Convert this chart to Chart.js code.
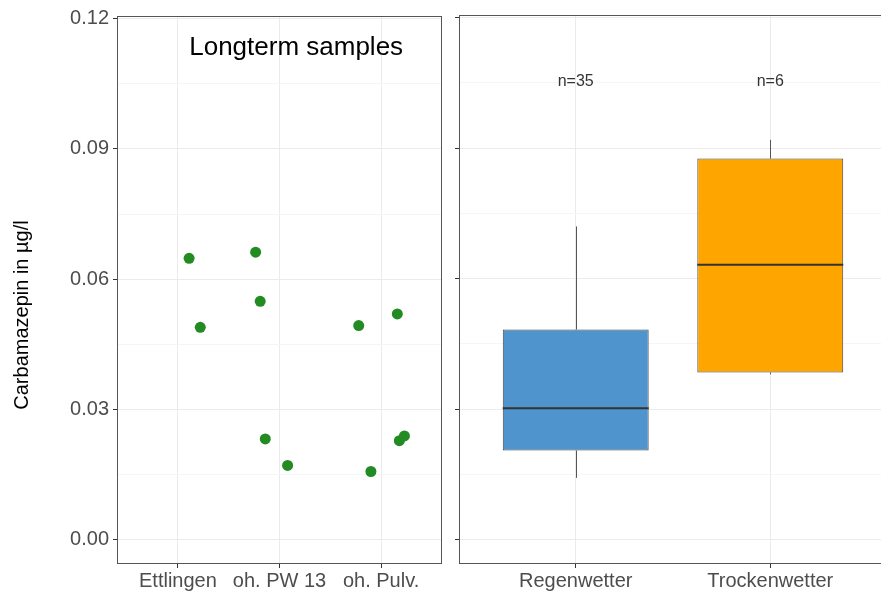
<!DOCTYPE html>
<html>
<head>
<meta charset="utf-8">
<script src="https://cdn.jsdelivr.net/npm/chart.js@4.4.0/dist/chart.umd.min.js"></script>
<style>
  html, body { margin: 0; padding: 0; background: #fff; overflow: hidden; }
  .wrap { position: relative; width: 881px; height: 591px; overflow: hidden; }
  #longterm { position: absolute; left: 0; top: 0; }
  #weather { position: absolute; left: 446px; top: 0; }
</style>
</head>
<body>
<div class="wrap">
  <canvas id="longterm" width="445" height="591"></canvas>
  <canvas id="weather" width="445" height="591"></canvas>
</div>
<script>
// sites of the longterm samples and the jittered sample points
const sites = ["Ettlingen", "oh. PW 13", "oh. Pulv."];
const sampleX = [1.11, 1.22, 1.765, 1.81, 1.86, 2.08, 2.78, 2.90, 3.16, 3.18, 3.23];
const sampleY = [0.0648, 0.0489, 0.0662, 0.0549, 0.0232, 0.0171, 0.0493, 0.0157, 0.0520, 0.0228, 0.0239];

// boxplot statistics per weather condition
const weather = ["Regenwetter", "Trockenwetter"];
const whiskerLow = [0.0142, 0.0380];
const q1 = [0.0205, 0.0384];
const median = [0.0302, 0.0632];
const q3 = [0.0483, 0.0876];
const whiskerHigh = [0.0720, 0.0919];
const counts = [35, 6];

// y axis
const yMajor = [0, 0.03, 0.06, 0.09, 0.12];
const yGrid = [0, 0.015, 0.03, 0.045, 0.06, 0.075, 0.09, 0.105, 0.12];
const yMin = -0.0056;
const yMax = 0.1206;

const FONT = "'Liberation Sans', Arial, sans-serif";
const isMajor = (v) => yMajor.includes(v);

Chart.defaults.font.family = FONT;
Chart.defaults.animation = false;
Chart.defaults.plugins.legend.display = false;
Chart.defaults.plugins.tooltip.enabled = false;

// frame around the plot area
const frame = {
  id: "frame",
  afterDraw(chart) {
    const { ctx, scales: { x, y } } = chart;
    const l = Math.round(x.getPixelForValue(x.min)) + 0.5;
    const r = Math.round(x.getPixelForValue(x.max)) - 0.5;
    const t = Math.round(y.getPixelForValue(y.max)) + 0.5;
    const b = Math.round(y.getPixelForValue(y.min)) - 0.5;
    ctx.save();
    ctx.strokeStyle = "#555";
    ctx.lineWidth = 1;
    ctx.strokeRect(l, t, r - l, b - t);
    ctx.restore();
  },
};

function yScale(showLabels, width) {
  return {
    type: "linear",
    min: yMin,
    max: yMax,
    afterBuildTicks: (s) => { s.ticks = yGrid.map((v) => ({ value: v })); },
    afterFit: (s) => { s.width = width; },
    ticks: {
      display: showLabels,
      color: "#4d4d4d",
      font: { size: 20 },
      padding: 4,
      callback: (v) => (isMajor(v) ? v.toFixed(2) : ""),
    },
    grid: {
      color: (c) => (isMajor(c.tick.value) ? "#ebebeb" : "#f5f5f5"),
      tickColor: (c) => (isMajor(c.tick.value) ? "#333" : "rgba(0,0,0,0)"),
      tickLength: 4,
    },
    border: { display: false },
  };
}

function xScale(labels) {
  return {
    type: "linear",
    min: 0.4,
    max: labels.length + 0.6,
    offset: false,
    afterBuildTicks: (s) => { s.ticks = labels.map((_, i) => ({ value: i + 1 })); },
    afterFit: (s) => { s.height = 27; },
    ticks: {
      autoSkip: false,
      maxRotation: 0,
      color: "#4d4d4d",
      font: { size: 20 },
      padding: 1,
      callback: (v, i) => labels[i],
    },
    grid: { offset: false, color: "#ebebeb", tickColor: "#333", tickLength: 4 },
    border: { display: false },
  };
}

// axis title and panel caption
const longtermText = {
  id: "longtermText",
  afterDraw(chart) {
    const { ctx, scales } = chart;
    ctx.save();
    ctx.fillStyle = "#000";
    ctx.textAlign = "center";
    ctx.textBaseline = "middle";
    ctx.font = "26px " + FONT;
    ctx.fillText("Longterm samples", scales.x.getPixelForValue(2.164), scales.y.getPixelForValue(0.1133));
    ctx.translate(22, 315);
    ctx.rotate(-Math.PI / 2);
    ctx.font = "20px " + FONT;
    ctx.fillText("Carbamazepin in µg/l", 0, 0);
    ctx.restore();
  },
};

new Chart(document.getElementById("longterm"), {
  type: "scatter",
  data: {
    datasets: [{
      data: sampleX.map((x, i) => ({ x, y: sampleY[i] })),
      backgroundColor: "#228B22",
      borderWidth: 0,
      pointRadius: 5.5,
    }],
  },
  options: {
    responsive: false,
    layout: { autoPadding: false, padding: { top: 15, right: 3, left: 0, bottom: 0 } },
    scales: { x: xScale(sites), y: yScale(true, 117) },
  },
  plugins: [frame, longtermText],
});

// whiskers behind the boxes, medians and counts on top
const boxParts = {
  id: "boxParts",
  beforeDatasetsDraw(chart) {
    const { ctx, scales: { x, y } } = chart;
    ctx.save();
    ctx.strokeStyle = "#555";
    ctx.lineWidth = 1;
    weather.forEach((_, i) => {
      const px = Math.round(x.getPixelForValue(i + 1)) + 0.5;
      ctx.beginPath();
      ctx.moveTo(px, y.getPixelForValue(whiskerHigh[i]));
      ctx.lineTo(px, y.getPixelForValue(q3[i]));
      ctx.moveTo(px, y.getPixelForValue(q1[i]));
      ctx.lineTo(px, y.getPixelForValue(whiskerLow[i]));
      ctx.stroke();
    });
    ctx.restore();
  },
  afterDatasetsDraw(chart) {
    const { ctx, scales: { x, y } } = chart;
    const bars = chart.getDatasetMeta(0).data;
    ctx.save();
    ctx.strokeStyle = "#333";
    ctx.lineWidth = 2;
    weather.forEach((_, i) => {
      const px = x.getPixelForValue(i + 1);
      const half = bars[i].width / 2;
      const py = y.getPixelForValue(median[i]);
      ctx.beginPath();
      ctx.moveTo(px - half, py);
      ctx.lineTo(px + half, py);
      ctx.stroke();
    });
    ctx.fillStyle = "#333";
    ctx.textAlign = "center";
    ctx.textBaseline = "middle";
    ctx.font = "16px " + FONT;
    counts.forEach((n, i) => {
      ctx.fillText("n=" + n, x.getPixelForValue(i + 1), y.getPixelForValue(0.1053));
    });
    ctx.restore();
  },
};

new Chart(document.getElementById("weather"), {
  type: "bar",
  data: {
    datasets: [{
      data: weather.map((_, i) => ({ x: i + 1, y: [q1[i], q3[i]] })),
      backgroundColor: ["#4F94CD", "#FFA500"],
      borderColor: "#444",
      borderWidth: 1,
      borderSkipped: false,
      barPercentage: 0.75,
      categoryPercentage: 1,
    }],
  },
  options: {
    responsive: false,
    layout: { autoPadding: false, padding: { top: 15, right: 4, left: 0, bottom: 0 } },
    scales: { x: xScale(weather), y: yScale(false, 13) },
  },
  plugins: [boxParts, frame],
});
</script>
</body>
</html>
